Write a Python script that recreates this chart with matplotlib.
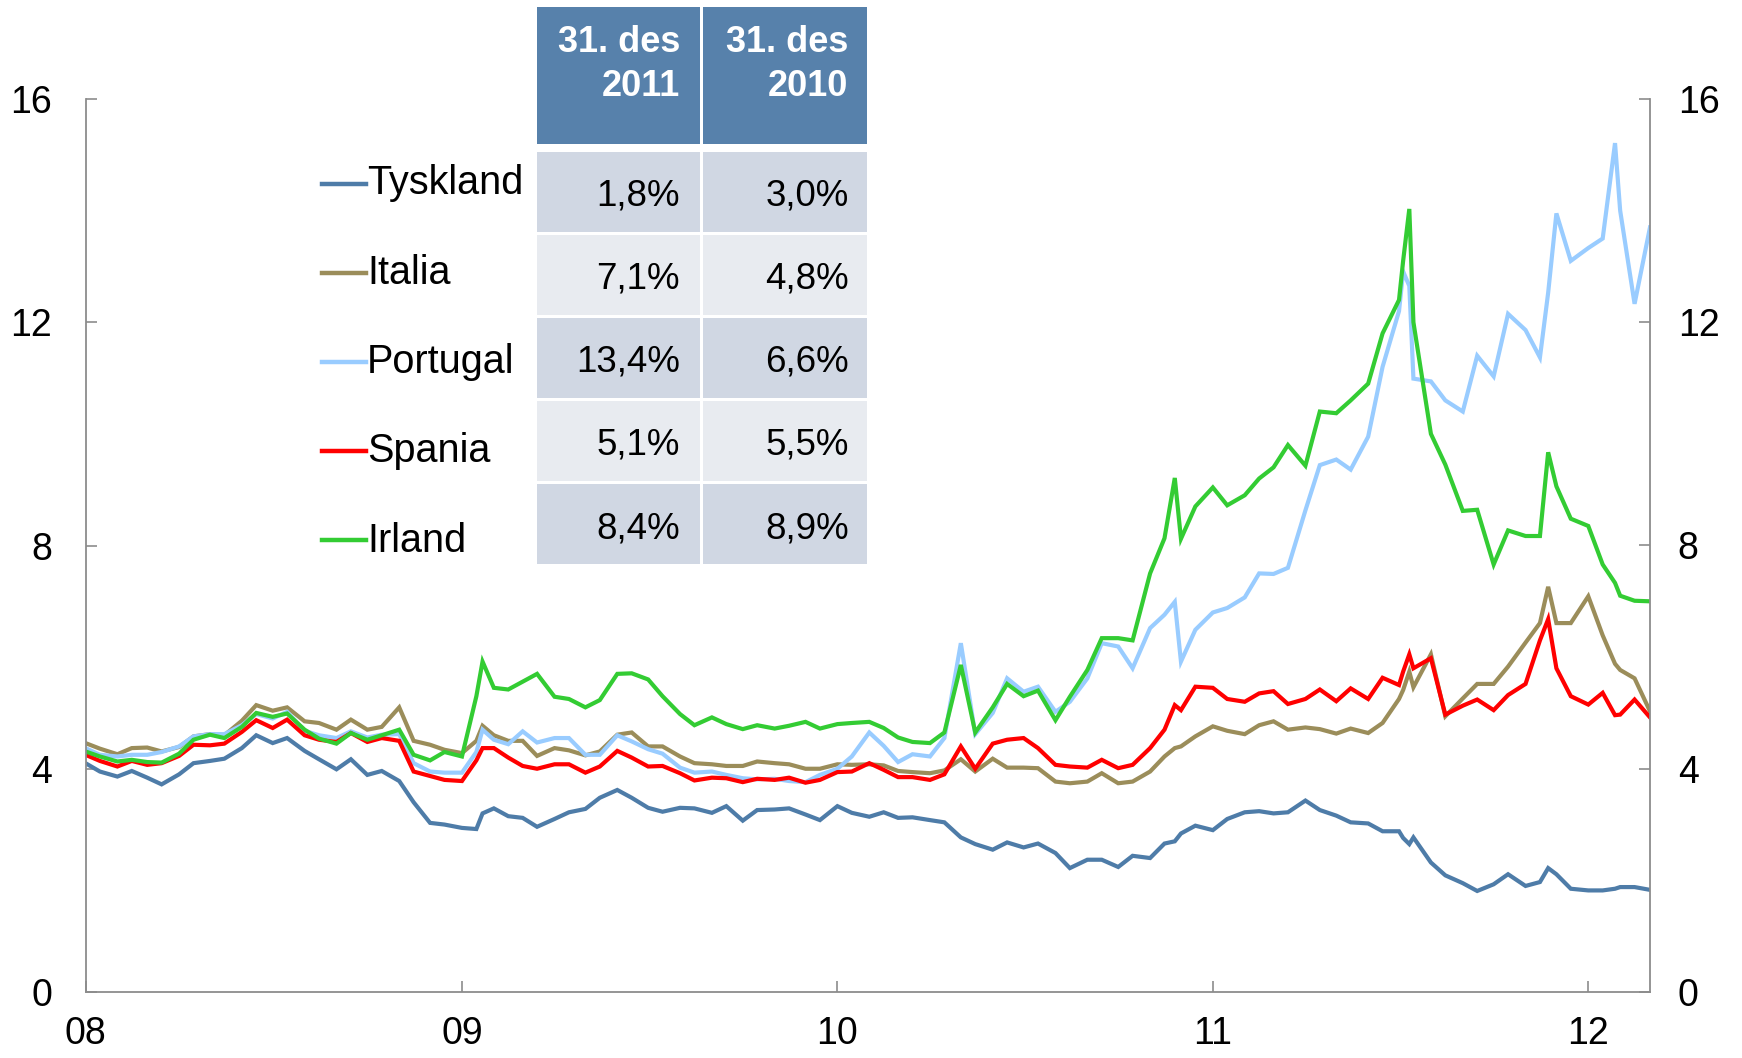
import matplotlib
matplotlib.use('Agg')
import matplotlib.pyplot as plt
import pandas as pd
from matplotlib.patches import Rectangle
from matplotlib.lines import Line2D

plt.rcParams['font.family'] = ['Liberation Sans', 'DejaVu Sans']

# ---------------- data ----------------
grid_start = '2008-01-01'
grid_end = '2012-03-01'          # semi-monthly grid (1st and 15th)
extra_dates = ['2009-01-21', '2010-11-25', '2011-07-05', '2011-07-11', '2011-11-23', '2012-01-27']

tyskland = [4.10, 3.95, 3.86, 3.96, 3.84, 3.72, 3.90, 4.10, 4.14, 4.18,
            4.37, 4.60, 4.46, 4.55, 4.32, 4.17, 3.99, 4.17, 3.89, 3.96,
            3.78, 3.40, 3.03, 3.00, 2.94, 2.92, 3.29, 3.15, 3.12, 2.96,
            3.10, 3.22, 3.28, 3.48, 3.62, 3.48, 3.30, 3.23, 3.30, 3.29,
            3.21, 3.33, 3.07, 3.26, 3.27, 3.29, 3.18, 3.08, 3.33, 3.21,
            3.14, 3.22, 3.12, 3.13, 3.08, 3.04, 2.77, 2.65, 2.55, 2.68,
            2.59, 2.66, 2.49, 2.22, 2.37, 2.37, 2.24, 2.44, 2.40, 2.66,
            2.84, 2.98, 2.90, 3.10, 3.22, 3.24, 3.20, 3.22, 3.43, 3.26,
            3.16, 3.04, 3.02, 2.88, 2.88, 2.77, 2.32, 2.09, 1.95, 1.81,
            1.93, 2.11, 1.90, 1.97, 2.11, 1.85, 1.82, 1.82, 1.88, 1.88,
            1.83]
italia = [4.46, 4.36, 4.26, 4.37, 4.38, 4.31, 4.39, 4.58, 4.62, 4.60,
          4.86, 5.14, 5.04, 5.10, 4.85, 4.82, 4.70, 4.88, 4.70, 4.75,
          5.10, 4.50, 4.43, 4.34, 4.28, 4.50, 4.60, 4.50, 4.50, 4.23,
          4.37, 4.33, 4.24, 4.31, 4.61, 4.65, 4.40, 4.40, 4.22, 4.10,
          4.08, 4.05, 4.05, 4.13, 4.10, 4.08, 4.00, 4.00, 4.08, 4.07,
          4.08, 4.06, 3.96, 3.94, 3.92, 3.97, 4.17, 3.95, 4.18, 4.02,
          4.02, 4.01, 3.77, 3.74, 3.77, 3.92, 3.74, 3.77, 3.95, 4.22,
          4.40, 4.58, 4.76, 4.68, 4.62, 4.78, 4.85, 4.70, 4.74, 4.71,
          4.63, 4.72, 4.64, 4.82, 5.25, 5.46, 6.05, 4.94, 5.26, 5.52,
          5.52, 5.83, 6.26, 6.61, 6.61, 6.61, 7.09, 6.39, 5.77, 5.62,
          5.03]
portugal = [4.37, 4.25, 4.22, 4.25, 4.25, 4.30, 4.40, 4.58, 4.62, 4.62,
            4.78, 4.98, 4.90, 5.02, 4.68, 4.60, 4.55, 4.67, 4.56, 4.61,
            4.62, 4.10, 3.95, 3.93, 3.93, 4.30, 4.52, 4.44, 4.67, 4.47,
            4.55, 4.55, 4.25, 4.25, 4.60, 4.49, 4.35, 4.27, 4.02, 3.93,
            3.95, 3.89, 3.83, 3.81, 3.82, 3.78, 3.76, 3.89, 4.00, 4.22,
            4.65, 4.41, 4.12, 4.26, 4.22, 4.55, 6.25, 4.62, 5.00, 5.62,
            5.38, 5.47, 5.02, 5.20, 5.62, 6.25, 6.19, 5.80, 6.52, 6.76,
            5.92, 6.49, 6.80, 6.88, 7.07, 7.50, 7.49, 7.60, 8.63, 9.44,
            9.54, 9.36, 9.95, 11.20, 12.20, 10.99, 10.94, 10.60, 10.40, 11.40,
            11.03, 12.15, 11.86, 11.37, 13.95, 13.10, 13.33, 13.50, 14.00, 12.33,
            13.70]
spania = [4.25, 4.14, 4.04, 4.14, 4.07, 4.10, 4.23, 4.43, 4.42, 4.45,
          4.66, 4.87, 4.73, 4.88, 4.60, 4.52, 4.48, 4.64, 4.48, 4.55,
          4.50, 3.95, 3.87, 3.80, 3.78, 4.15, 4.37, 4.20, 4.05, 4.00,
          4.08, 4.08, 3.93, 4.04, 4.32, 4.20, 4.04, 4.05, 3.92, 3.79,
          3.84, 3.83, 3.76, 3.82, 3.80, 3.84, 3.75, 3.80, 3.94, 3.95,
          4.10, 3.98, 3.85, 3.85, 3.80, 3.90, 4.40, 4.00, 4.45, 4.52,
          4.55, 4.37, 4.07, 4.04, 4.02, 4.16, 4.01, 4.07, 4.37, 4.70,
          5.05, 5.47, 5.45, 5.25, 5.20, 5.35, 5.39, 5.16, 5.25, 5.42,
          5.21, 5.44, 5.25, 5.63, 5.50, 5.80, 5.98, 4.97, 5.13, 5.24,
          5.05, 5.32, 5.52, 6.30, 5.80, 5.30, 5.15, 5.36, 4.97, 5.24,
          4.92]
irland = [4.31, 4.22, 4.13, 4.16, 4.12, 4.11, 4.27, 4.52, 4.61, 4.55,
          4.75, 5.00, 4.93, 4.99, 4.70, 4.54, 4.45, 4.64, 4.52, 4.60,
          4.70, 4.25, 4.15, 4.30, 4.22, 5.30, 5.45, 5.42, 5.56, 5.70,
          5.29, 5.25, 5.10, 5.23, 5.70, 5.71, 5.60, 5.30, 4.98, 4.78,
          4.92, 4.80, 4.71, 4.78, 4.72, 4.77, 4.84, 4.72, 4.80, 4.82,
          4.84, 4.73, 4.56, 4.48, 4.46, 4.65, 5.86, 4.65, 5.10, 5.52,
          5.30, 5.40, 4.87, 5.29, 5.77, 6.34, 6.34, 6.30, 7.50, 8.13,
          8.12, 8.70, 9.04, 8.72, 8.90, 9.20, 9.40, 9.80, 9.43, 10.40,
          10.37, 10.60, 10.90, 11.80, 12.40, 12.00, 10.00, 9.45, 8.62, 8.64,
          7.66, 8.27, 8.17, 8.17, 9.06, 8.48, 8.35, 7.66, 7.10, 7.01,
          7.00]

tyskland_extra = [3.20, 2.70, 2.76, 2.65, 2.22, 1.85]
italia_extra = [4.77, 4.37, 5.41, 5.74, 7.26, 5.88]
portugal_extra = [4.70, 6.99, 12.91, 12.65, 12.53, 15.21]
spania_extra = [4.37, 5.14, 5.74, 6.05, 6.68, 4.96]
irland_extra = [5.92, 9.21, 13.10, 14.03, 9.67, 7.33]

countries = ['Tyskland', 'Italia', 'Portugal', 'Spania', 'Irland']
colors = ['#4E7CA8', '#9B8D5A', '#99CCFF', '#FF0000', '#33CC33']

x_tick_dates = ['2008-01-01', '2009-01-01', '2010-01-01', '2011-01-01', '2012-01-01']
x_tick_labels = ['08', '09', '10', '11', '12']
y_ticks = [0, 4, 8, 12, 16]

header_lines = [('31. des', '2011'), ('31. des', '2010')]
col_2011 = ['1,8%', '7,1%', '13,4%', '5,1%', '8,4%']
col_2010 = ['3,0%', '4,8%', '6,6%', '5,5%', '8,9%']

# ---------------- figure ----------------
W, H = 1742, 1058
fig = plt.figure(figsize=(W / 100, H / 100), dpi=100)
L, R, T, B = 85.5, 1650, 99, 992
ax = fig.add_axes([L / W, 1 - B / H, (R - L) / W, (B - T) / H])

grid = pd.date_range(grid_start, grid_end, freq='SMS')
extra_idx = pd.to_datetime(extra_dates)

def make_series(vals, extra):
    s = pd.Series(list(vals) + list(extra), index=list(grid) + list(extra_idx))
    return s.sort_index()

all_vals = [tyskland, italia, portugal, spania, irland]
all_extra = [tyskland_extra, italia_extra, portugal_extra, spania_extra, irland_extra]
for vals, extra, c in zip(all_vals, all_extra, colors):
    s = make_series(vals, extra)
    ax.plot(s.index, s.values, color=c, lw=3.0, solid_joinstyle='miter')

ax.set_xlim(pd.Timestamp(grid_start), pd.Timestamp(grid_end))
ax.set_ylim(0, 16)
ax.set_xticks(pd.to_datetime(x_tick_dates))
ax.set_xticklabels(x_tick_labels)
ax.set_yticks(y_ticks)
ax.set_yticklabels([str(v) for v in y_ticks])

spine_c = '#8C8C8C'
for side in ['top', 'right']:
    ax.spines[side].set_visible(False)
for side in ['left', 'bottom']:
    ax.spines[side].set_color(spine_c)
    ax.spines[side].set_linewidth(1.3)
ax.tick_params(axis='x', direction='in', length=8, width=1.2, color=spine_c,
               labelsize=27, pad=17.5)
ax.tick_params(axis='y', direction='in', length=8, width=1.2, color=spine_c,
               labelsize=27, pad=24)

ax2 = ax.twinx()
ax2.set_ylim(0, 16)
ax2.set_yticks(y_ticks)
ax2.set_yticklabels([str(v) for v in y_ticks])
for side in ['top', 'left', 'bottom']:
    ax2.spines[side].set_visible(False)
ax2.spines['right'].set_color(spine_c)
ax2.spines['right'].set_linewidth(1.3)
ax2.tick_params(axis='y', direction='in', length=8, width=1.2, color=spine_c,
                labelsize=27, pad=20)

# ---------------- overlay: legend + table ----------------
ov = fig.add_axes([0, 0, 1, 1], zorder=5)
ov.set_xlim(0, W)
ov.set_ylim(H, 0)
ov.axis('off')
ov.patch.set_alpha(0)

header_c = '#5781AB'
row_dark = '#D0D7E3'
row_light = '#E8EBF0'
cols = [(537, 700), (703, 867)]
right_edges = [680, 848.5]

for (x0, x1), lines, xr in zip(cols, header_lines, right_edges):
    ov.add_patch(Rectangle((x0, 7), x1 - x0, 137, facecolor=header_c, edgecolor='none'))
    ov.text(xr, 52, lines[0], ha='right', va='baseline', color='white',
            fontsize=26, fontweight='bold')
    ov.text(xr, 96, lines[1], ha='right', va='baseline', color='white',
            fontsize=26, fontweight='bold')

row_top0, pitch, row_h = 152, 82.9, 80
for k, name in enumerate(countries):
    y0 = row_top0 + k * pitch
    fc = row_dark if k % 2 == 0 else row_light
    for (x0, x1) in cols:
        ov.add_patch(Rectangle((x0, y0), x1 - x0, row_h, facecolor=fc, edgecolor='none'))
    base = 205 + k * 83.3
    ov.text(right_edges[0], base, col_2011[k], ha='right', va='baseline',
            fontsize=26.5, color='black')
    ov.text(right_edges[1], base, col_2010[k], ha='right', va='baseline',
            fontsize=26.5, color='black')
    # legend entry
    ly = 184 + k * 89
    ov.add_line(Line2D([321.5, 365.5], [ly, ly], color=colors[k], lw=3.2))
    ov.text(367, 194 + k * 89.5, name, ha='left', va='baseline', fontsize=28.5,
            color='black')

fig.savefig('out.png', dpi=100)
